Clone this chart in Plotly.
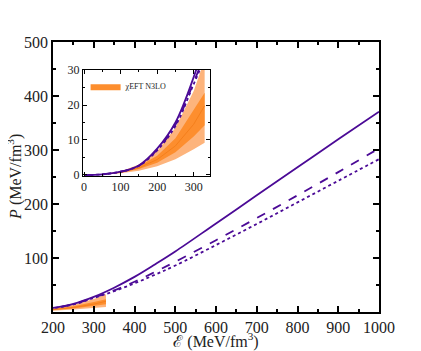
import plotly.graph_objects as go

# energy density grid (MeV/fm^3) and pressures (MeV/fm^3) for the three EOS curves
energy = [0, 50, 100, 150, 200, 250, 300, 350, 400, 450, 500, 600, 700, 800, 900, 1000]
p_solid = [0, 0.15, 0.9, 2.7, 7.5, 15, 28, 45, 65, 88, 112, 164, 216, 268, 320, 371]
p_dashed = [0, 0.15, 0.9, 2.6, 7.2, 14.3, 26.5, 40, 56, 74, 93, 133, 174, 216, 259, 303]
p_dotted = [0, 0.15, 0.9, 2.6, 7.0, 14, 26, 38.5, 53, 69, 86, 124, 163, 203, 243, 283]

# chiEFT N3LO band
band_e = [50, 100, 150, 200, 250, 300, 330]
band_outer_lo = [0.1, 0.45, 1.2, 2.5, 4.5, 7.3, 9.2]
band_outer_hi = [0.2, 1.0, 3.0, 6.8, 13.5, 24, 33]
band_inner_lo = [0.15, 0.6, 1.7, 3.5, 6.5, 11, 14.2]
band_inner_hi = [0.2, 0.85, 2.5, 5.5, 10.5, 18.5, 23.5]
band_center = [0.17, 0.7, 2.0, 4.4, 8.3, 14.5, 19.8]

x_ticks = [200, 300, 400, 500, 600, 700, 800, 900, 1000]
y_ticks = [100, 200, 300, 400, 500]
inset_x_ticks = [0, 100, 200, 300]
inset_y_ticks = [0, 10, 20, 30]

PURPLE = "#4b0a96"
OUTER = "#fdb47c"
INNER = "#fd8e2e"
CENTER = "#f47f1c"
FRAME = "#000000"
FONT = "Liberation Serif"

fig = go.Figure()


def add_band(xa, ya, legend):
    fig.add_trace(go.Scatter(
        x=band_e + band_e[::-1], y=band_outer_hi + band_outer_lo[::-1],
        fill="toself", fillcolor=OUTER, line=dict(width=0), mode="lines",
        xaxis=xa, yaxis=ya, showlegend=False, hoverinfo="skip"))
    fig.add_trace(go.Scatter(
        x=band_e + band_e[::-1], y=band_inner_hi + band_inner_lo[::-1],
        fill="toself", fillcolor=INNER, line=dict(width=0, color=INNER), mode="lines",
        xaxis=xa, yaxis=ya, name="\u03c7EFT N3LO", showlegend=legend, hoverinfo="skip"))
    fig.add_trace(go.Scatter(
        x=band_e, y=band_center, mode="lines", line=dict(color=CENTER, width=1),
        xaxis=xa, yaxis=ya, showlegend=False))


def add_curves(xa, ya, w):
    for p, dash in [(p_solid, "solid"), (p_dashed, "dash"), (p_dotted, "dot")]:
        fig.add_trace(go.Scatter(
            x=energy, y=p, mode="lines", line=dict(color=PURPLE, width=w, dash=dash, shape="spline"),
            xaxis=xa, yaxis=ya, showlegend=False))


add_band("x", "y", False)
add_curves("x", "y", 1.8)
add_band("x2", "y2", True)
add_curves("x2", "y2", 1.8)

# y title as an annotation so it can sit left of the tick labels
fig.add_annotation(text="<i>P</i> (MeV/fm<sup>3</sup>)", xref="paper", yref="paper",
                   x=-0.12, y=0.5, xanchor="center", yanchor="middle", textangle=-90,
                   showarrow=False, font=dict(size=16, family=FONT, color="#222"))

axis_common = dict(showline=True, linecolor=FRAME, mirror="ticks", ticks="inside",
                   tickcolor=FRAME, showgrid=False, zeroline=False, automargin=False)

# the page body adds an 8px offset, so the figure is 8px smaller and margins shifted
fig.update_layout(
    template="simple_white",
    width=413, height=343,
    margin=dict(l=45, r=42, t=34, b=39),
    plot_bgcolor="white", paper_bgcolor="white",
    font=dict(family=FONT, color="#222"),
    xaxis=dict(range=[200, 1000], tickvals=x_ticks, linewidth=1.8, ticklen=6, tickwidth=1.5,
               minor=dict(dtick=50, ticks="inside", ticklen=3, tickcolor=FRAME),
               tickfont=dict(size=16),
               title=dict(text="\u2130 (MeV/fm<sup>3</sup>)", font=dict(size=16), standoff=2),
               **axis_common),
    yaxis=dict(range=[0, 500], tickvals=y_ticks, linewidth=1.8, ticklen=6, tickwidth=1.5,
               minor=dict(dtick=50, ticks="inside", ticklen=3, tickcolor=FRAME),
               tickfont=dict(size=16),
               **axis_common),
    xaxis2=dict(domain=[0.092, 0.482], anchor="y2", range=[-3, 345], tickvals=inset_x_ticks,
                linewidth=1.2, ticklen=4, tickwidth=1,
                minor=dict(dtick=50, ticks="inside", ticklen=2, tickcolor=FRAME),
                tickfont=dict(size=12), **axis_common),
    yaxis2=dict(domain=[0.504, 0.896], anchor="x2", range=[-0.3, 30], tickvals=inset_y_ticks,
                linewidth=1.2, ticklen=4, tickwidth=1,
                minor=dict(dtick=5, ticks="inside", ticklen=2, tickcolor=FRAME),
                tickfont=dict(size=12), **axis_common),
    legend=dict(x=0.1, y=0.89, xanchor="left", yanchor="top", bgcolor="rgba(0,0,0,0)",
                font=dict(size=8, family=FONT), itemwidth=30, tracegroupgap=0),
)

fig.write_html("out.html")
